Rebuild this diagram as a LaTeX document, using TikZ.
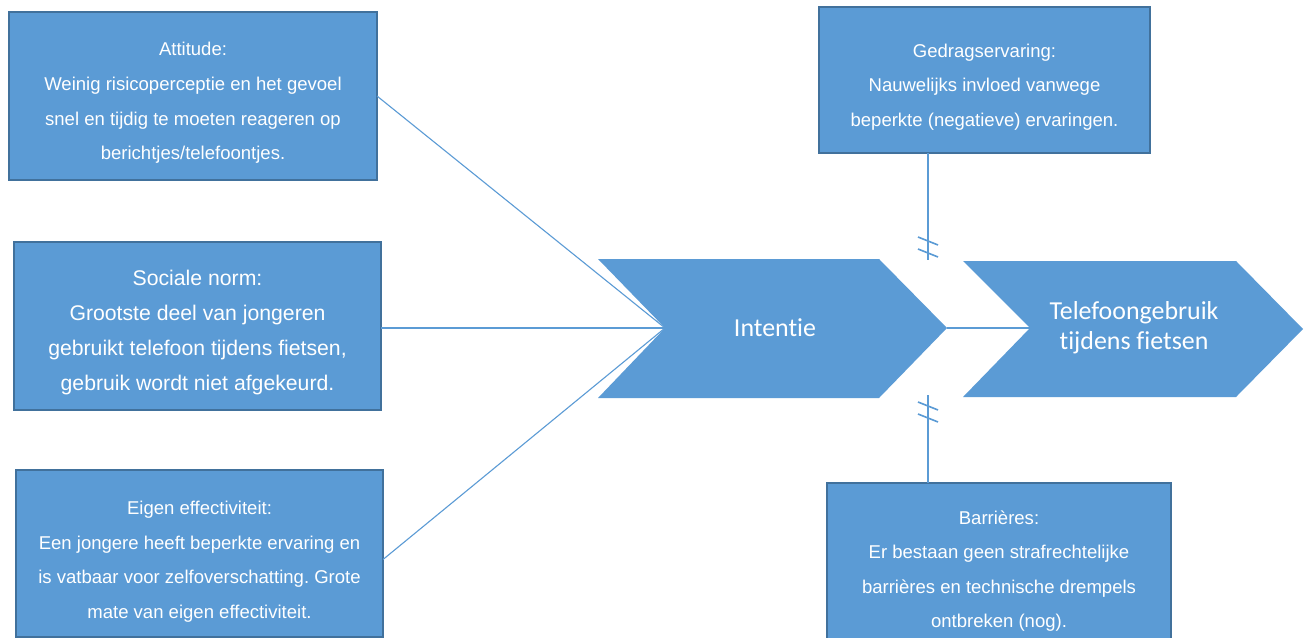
\documentclass[tikz,border=0pt]{standalone}
\usepackage{fontspec}
\setmainfont{Liberation Sans}
\newfontfamily\carlitofont[Ligatures={NoCommon}]{Carlito}
\definecolor{boxfill}{HTML}{5B9BD5}
\definecolor{boxedge}{HTML}{41719C}
\tikzset{
  infobox/.style={rectangle, fill=boxfill, draw=boxedge, line width=2bp, inner sep=0pt, outer sep=0pt},
  infotext/.style={text=white, align=center, inner sep=0pt, font=\frenchspacing\fontsize{18.6}{34.7}\selectfont},
  bigtext/.style={text=white, align=center, inner sep=0pt, font=\frenchspacing\fontsize{21.3}{35}\selectfont},
  chevtext/.style={text=white, align=center, inner sep=0pt, font=\carlitofont\fontsize{26}{30}\selectfont},
  chev/.style={fill=boxfill},
  link/.style={draw=boxfill, line width=1.1bp},
  vlink/.style={draw=boxfill, line width=1.6bp},
}
\begin{document}
\begin{tikzpicture}[x=1bp,y=-1bp]
\clip (0,0) rectangle (1307,638);
\useasboundingbox (0,0) rectangle (1307,638);
\fill[white] (0,0) rectangle (1307,638);

% chevrons
\coordinate (intnotch) at (665,328);
\coordinate (inttip) at (947,328);
\coordinate (telnotch) at (1030,328);
\coordinate (teltip) at (1303,329);
\path[chev] (598,259) -- (879,259) -- (inttip) -- (879,398) -- (598,398) -- (intnotch) -- cycle;
\path[chev] (963,261) -- (1236,261) -- (teltip) -- (1236,397) -- (963,397) -- (telnotch) -- cycle;
\node[chevtext] (intt) at (775,328) {Intentie};
\node[chevtext] (telt) at (1134,328) {Telefoongebruik\\tijdens fietsen};

% boxes
\node[infobox, minimum width=368bp, minimum height=168bp] (att) at (193,96) {};
\node[infotext] (attt) at (193,103) {Attitude:\\Weinig risicoperceptie en het gevoel\\snel en tijdig te moeten reageren op\\berichtjes/telefoontjes.};

\node[infobox, minimum width=367bp, minimum height=168bp] (soc) at (197.5,326) {};
\node[bigtext] (soct) at (197.5,332.5) {Sociale norm:\\Grootste deel van jongeren\\gebruikt telefoon tijdens fietsen,\\gebruik wordt niet afgekeurd.};

\node[infobox, minimum width=367bp, minimum height=167bp] (eig) at (199.5,553.5) {};
\node[infotext] (eigt) at (199.5,561.5) {Eigen effectiviteit:\\Een jongere heeft beperkte ervaring en\\is vatbaar voor zelfoverschatting. Grote\\mate van eigen effectiviteit.};

\node[infobox, minimum width=331bp, minimum height=146bp] (ged) at (984.5,80) {};
\node[infotext] (gedt) at (984.5,87) {Gedragservaring:\\Nauwelijks invloed vanwege\\beperkte (negatieve) ervaringen.};

\node[infobox, minimum width=344bp, minimum height=162bp] (bar) at (999,564) {};
\node[infotext] (bart) at (999,571) {Barrières:\\Er bestaan geen strafrechtelijke\\barrières en technische drempels\\ontbreken (nog).};

% connectors to intentie
\draw[link] (att.east) -- (intnotch);
\draw[link] (soc.east |- intnotch) -- (intnotch);
\draw[link] ([yshift=-6bp]eig.east) -- (intnotch);
\draw[vlink] (inttip) -- (telnotch);

% interrupted influences
\coordinate (gend) at (928,260);
\coordinate (bend) at (928,395);
\draw[vlink] (gend |- ged.south) -- (gend);
\draw[vlink] ([shift={(-10,-23)}]gend) -- ([shift={(10,-15)}]gend);
\draw[vlink] ([shift={(-10,-11)}]gend) -- ([shift={(10,-3)}]gend);
\draw[vlink] (bend) -- (bend |- bar.north);
\draw[vlink] ([shift={(-10,7)}]bend) -- ([shift={(10,15)}]bend);
\draw[vlink] ([shift={(-10,19)}]bend) -- ([shift={(10,27)}]bend);
\end{tikzpicture}
\end{document}
